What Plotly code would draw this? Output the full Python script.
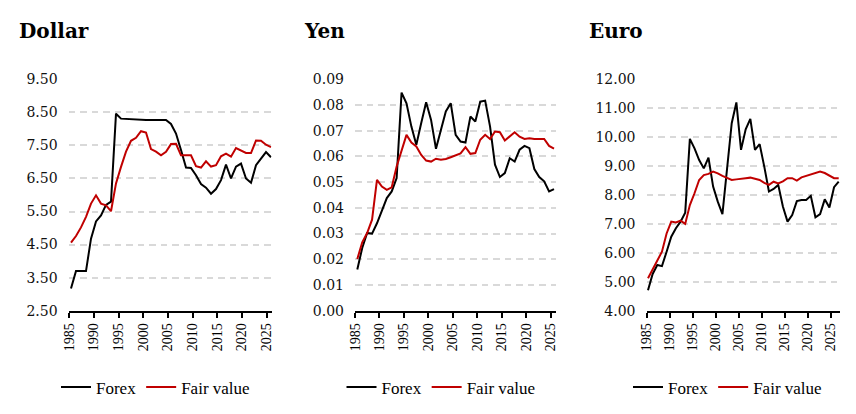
import plotly.graph_objects as go

# ---------------- data ----------------
years_usd = list(range(1985, 2026))
usd_forex = [3.17, 3.70, 3.70, 3.70, 4.68, 5.20, 5.38, 5.70, 5.80, 8.46,
             8.31, 8.30, 8.28, 8.27, 8.27, 8.27, 8.27, 8.27, 8.27, 8.27,
             8.15, 7.86, 7.36, 6.83, 6.82, 6.60, 6.33, 6.22, 6.04, 6.18,
             6.45, 6.92, 6.50, 6.86, 6.95, 6.50, 6.37, 6.90, 7.10, 7.30,
             7.14]
usd_fair = [4.56, 4.76, 5.02, 5.34, 5.74, 5.99, 5.74, 5.69, 5.51, 6.35,
            6.85, 7.31, 7.64, 7.73, 7.93, 7.89, 7.39, 7.31, 7.20, 7.31,
            7.54, 7.55, 7.20, 7.20, 7.20, 6.87, 6.83, 7.02, 6.86, 6.90,
            7.17, 7.25, 7.16, 7.42, 7.34, 7.27, 7.27, 7.65, 7.64, 7.52,
            7.45]

years_jpy = list(range(1985, 2026))
jpy_forex = [0.0160, 0.0244, 0.0302, 0.0300, 0.0340, 0.0393, 0.0438, 0.0464, 0.0516, 0.0848,
             0.0807, 0.0716, 0.0645, 0.0730, 0.0811, 0.0742, 0.0630, 0.0703, 0.0775, 0.0807,
             0.0684, 0.0658, 0.0654, 0.0755, 0.0736, 0.0813, 0.0817, 0.0716, 0.0568, 0.0520,
             0.0535, 0.0593, 0.0580, 0.0626, 0.0641, 0.0632, 0.0551, 0.0520, 0.0503, 0.0464,
             0.0473]
jpy_fair = [0.0201, 0.0266, 0.0302, 0.0354, 0.0509, 0.0483, 0.0470, 0.0480, 0.0561, 0.0619,
            0.0684, 0.0654, 0.0639, 0.0606, 0.0584, 0.0580, 0.0591, 0.0587, 0.0590, 0.0597,
            0.0603, 0.0612, 0.0636, 0.0610, 0.0613, 0.0665, 0.0684, 0.0668, 0.0697, 0.0694,
            0.0662, 0.0677, 0.0694, 0.0677, 0.0668, 0.0671, 0.0668, 0.0668, 0.0668, 0.0641,
            0.0630]

years_eur = list(range(1985, 2027))
eur_forex = [4.71, 5.27, 5.58, 5.54, 6.04, 6.56, 6.85, 7.08, 7.39, 9.94,
             9.61, 9.21, 8.92, 9.29, 8.29, 7.77, 7.34, 8.95, 10.48, 11.20,
             9.56, 10.27, 10.63, 9.56, 9.76, 8.98, 8.12, 8.21, 8.35, 7.60,
             7.08, 7.31, 7.79, 7.83, 7.83, 7.97, 7.23, 7.34, 7.85, 7.57,
             8.27, 8.46]
eur_fair = [5.12, 5.41, 5.72, 6.04, 6.67, 7.08, 7.05, 7.11, 7.00, 7.65,
            8.06, 8.52, 8.69, 8.73, 8.81, 8.75, 8.66, 8.58, 8.52, 8.54,
            8.55, 8.58, 8.60, 8.55, 8.52, 8.42, 8.35, 8.46, 8.40, 8.47,
            8.58, 8.58, 8.50, 8.61, 8.66, 8.69, 8.74, 8.81, 8.76, 8.67,
            8.58, 8.58]

tick_labels = ["1985", "1990", "1995", "2000", "2005", "2010", "2015", "2020", "2025"]
series_names = ["Forex", "Fair value"]
panel_titles = ["Dollar", "Yen", "Euro"]

# ---------------- layout helpers ----------------
W, H = 856, 414
BLACK = "#000000"
RED = "#C00000"
GRID = "#d9d9d9"


def px(p):
    return p / W


def py(p):
    return 1 - p / H


panels = [
    dict(title=panel_titles[0], years=years_usd, forex=usd_forex, fair=usd_fair,
         yrange=[2.5, 9.5], dtick=1.0, title_x=17,
         data_px=(71.0, 271.0), axis_px=(68.6, 271.5), tick_px=(69.3, 266.5),
         legend_x=155.5),
    dict(title=panel_titles[1], years=years_jpy, forex=jpy_forex, fair=jpy_fair,
         yrange=[0.0, 0.09], dtick=0.01, title_x=302,
         data_px=(357.3, 554.0), axis_px=(355.0, 555.5), tick_px=(355.0, 550.7),
         legend_x=441),
    dict(title=panel_titles[2], years=years_eur, forex=eur_forex, fair=eur_fair,
         yrange=[4.0, 12.0], dtick=1.0, title_x=587,
         data_px=(648.0, 838.7), axis_px=(646.5, 840.0), tick_px=(646.7, 830.7),
         legend_x=727.5),
]

Y_TOP, Y_BOT = 79.3, 310.7

fig = go.Figure()
annotations = []

for i, p in enumerate(panels):
    n = i + 1
    xa = "x" if n == 1 else f"x{n}"
    ya = "y" if n == 1 else f"y{n}"
    leg = "legend" if n == 1 else f"legend{n}"
    first, last = p["years"][0], p["years"][-1]
    ppy = (p["data_px"][1] - p["data_px"][0]) / (last - first)

    def u(pix, first=first, ppy=ppy, d0=p["data_px"][0]):
        return first + (pix - d0) / ppy

    t0, t1 = p["tick_px"]
    tickvals = [u(t0 + k * (t1 - t0) / 8) for k in range(9)]

    fig.add_trace(go.Scatter(x=p["years"], y=p["forex"], mode="lines", name=series_names[0],
                             line=dict(color=BLACK, width=2), xaxis=xa, yaxis=ya,
                             legend=leg, hoverinfo="skip"))
    fig.add_trace(go.Scatter(x=p["years"], y=p["fair"], mode="lines", name=series_names[1],
                             line=dict(color=RED, width=2), xaxis=xa, yaxis=ya,
                             legend=leg, hoverinfo="skip"))

    xkey = "xaxis" if n == 1 else f"xaxis{n}"
    ykey = "yaxis" if n == 1 else f"yaxis{n}"
    lkey = "legend" if n == 1 else f"legend{n}"
    fig.update_layout(**{
        xkey: dict(domain=[px(p["axis_px"][0]), px(p["axis_px"][1])],
                   range=[u(p["axis_px"][0]), u(p["axis_px"][1])],
                   anchor=ya, showgrid=False, zeroline=False, automargin=False,
                   showline=True, linecolor=BLACK, linewidth=2,
                   ticks="outside", ticklen=5, tickwidth=1.5, tickcolor=BLACK,
                   tickmode="array", tickvals=tickvals, ticktext=tick_labels,
                   tickangle=-90,
                   tickfont=dict(family="Liberation Serif", size=14, color=BLACK)),
        ykey: dict(domain=[py(Y_BOT), py(Y_TOP)], range=p["yrange"], anchor=xa,
                   tickmode="linear", tick0=p["yrange"][0], dtick=p["dtick"],
                   tickformat=".2f", showline=False, zeroline=False, automargin=False,
                   showgrid=True, gridcolor=GRID, gridwidth=1.5, griddash="6.5px,5px",
                   ticks="", ticklabelstandoff=10,
                   tickfont=dict(family="DejaVu Serif", size=14, color="#111111")),
        lkey: dict(orientation="h", x=px(p["legend_x"]), xanchor="center",
                   y=py(387.5), yanchor="middle", bgcolor="rgba(0,0,0,0)",
                   font=dict(family="Liberation Serif", size=17, color=BLACK),
                   itemwidth=30, tracegroupgap=0),
    })
    annotations.append(dict(text=f"<b>{p['title']}</b>", xref="paper", yref="paper",
                            x=px(p["title_x"]), y=py(31), xanchor="left", yanchor="middle",
                            showarrow=False,
                            font=dict(family="DejaVu Serif", size=20, color=BLACK)))

fig.update_layout(width=W, height=H,
                  margin=dict(l=0, r=0, t=0, b=0, pad=0, autoexpand=False),
                  paper_bgcolor="white", plot_bgcolor="white",
                  font=dict(family="Liberation Serif", color=BLACK),
                  annotations=annotations, showlegend=True)

fig.write_html("out.html", config={"displayModeBar": False},
               post_script="document.body.style.margin='0';document.body.style.overflow='hidden';")
